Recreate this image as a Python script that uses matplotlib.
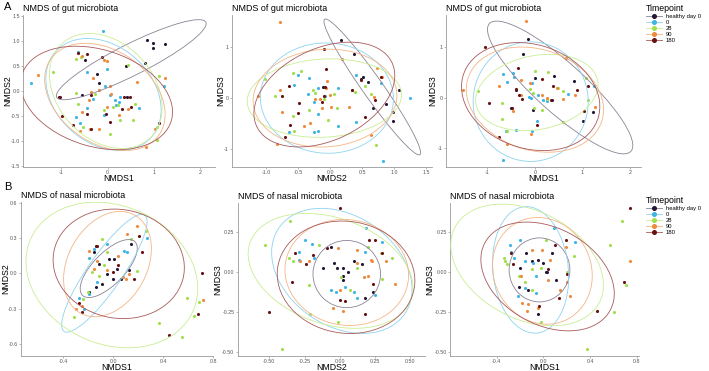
import matplotlib
matplotlib.use("Agg")
import matplotlib.pyplot as plt
from matplotlib.patches import Ellipse
from matplotlib.lines import Line2D

plt.rcParams['font.family'] = ['Liberation Sans', 'DejaVu Sans']
plt.rcParams['axes.unicode_minus'] = False

groups = ["healthy day 0", "0", "28", "90", "180"]
point_colors = ["#241634", "#3db5e6", "#9fe04a", "#f0893a", "#6a0f12"]
ellipse_colors = ["#8c8294", "#8dd3ef", "#c9ee93", "#f4b585", "#a85a5a"]

# ---- gut microbiota, NMDS1 vs NMDS2 ----
gut_12 = {
    "healthy day 0": [(0.86, 1.03), (0.99, 0.97), (1.24, 0.95), (0.98, 0.87), (0.80, 0.56), (-0.18, 0.16),
                      (-0.50, 0.63), (-0.24, 0.35), (0.40, 0.50), (-1.05, -0.12), (-0.56, -0.09), (0.41, -0.12)],
    "0": [(-0.11, 1.20), (-0.65, 0.79), (-0.44, 0.38), (-0.02, 0.45), (-0.05, 0.11), (-1.66, 0.17), (-0.45, -0.34),
          (0.05, -0.09), (0.16, -0.19), (0.24, -0.22), (0.17, -0.28), (0.68, -0.34), (-0.68, -0.52), (-0.60, -0.64),
          (-0.07, -0.49), (1.22, 0.11), (-0.31, -0.17), (0.27, -0.12)],
    "28": [(-0.68, 0.64), (-0.58, 0.68), (-1.19, 0.38), (-0.68, -0.04), (-0.65, -0.26), (-0.27, -0.07), (0.45, 0.53),
           (1.11, 0.30), (0.12, -0.32), (0.27, -0.58), (-0.07, -0.39), (0.04, -0.86), (0.54, -0.58), (0.59, -0.26),
           (0.23, -0.29), (1.06, -0.99), (-0.53, -0.72), (1.06, -0.72)],
    "90": [(-1.51, 0.32), (-0.07, 0.62), (-0.02, 0.60), (-0.56, 0.70), (-0.31, 0.26), (-0.19, 0.03), (-0.37, -0.02),
           (-0.40, -0.19), (0.05, 0.11), (0.63, 0.18), (1.24, 0.26), (0.07, -0.07), (0.25, -0.49), (0.43, -0.36),
           (-0.19, -0.76), (-0.38, -0.76), (-0.60, -0.81), (1.03, -0.76), (0.82, -1.13), (-0.02, -0.32), (-0.56, -0.42)],
    "180": [(-0.65, 0.77), (-0.45, 0.75), (-0.13, 0.68), (-1.04, -0.12), (-0.99, -0.51), (-0.74, -0.69), (-0.37, -0.09),
            (0.48, -0.12), (0.36, -0.12), (0.50, -0.32), (1.11, -0.64), (-0.04, -0.47), (0.04, -0.62), (-0.35, -0.76),
            (-0.44, -0.46), (0.30, -0.36)],
}
# ellipse: centre x, centre y, width, height, angle
gut_12_ell = [(0.51, 0.63, 3.56, 0.64, 25), (-0.09, -0.07, 2.7, 2.0, -35), (-0.04, 0.0, 2.7, 2.0, -40),
              (-0.06, -0.12, 2.8, 1.9, -30), (-0.24, -0.14, 3.36, 1.96, -15)]

# ---- gut microbiota, NMDS2 vs NMDS3 ----
gut_23 = {
    "healthy day 0": [(0.17, 1.15), (0.38, 0.87), (0.51, 0.41), (0.48, 0.38), (0.59, 0.31), (1.08, 0.15),
                      (0.67, -0.20), (0.88, -0.12), (0.98, -0.27), (0.99, -0.46), (-0.11, 0.22)],
    "0": [(-0.33, 0.39), (-0.57, 0.26), (-0.51, 0.45), (-0.19, 0.20), (-0.08, 0.04), (-0.25, -0.07), (-0.19, -0.32),
          (0.13, 0.20), (0.41, 0.46), (0.80, 0.29), (1.25, 0.0), (0.13, -0.56), (0.40, -0.47), (-0.19, -0.64),
          (-0.25, -0.66), (-0.64, -0.66), (0.83, -1.24), (-0.34, 0.08)],
    "28": [(-0.58, 0.49), (-0.45, 0.54), (-1.02, 0.38), (-0.86, 0.05), (-0.27, 0.16), (-0.24, 0.11), (-0.09, -0.02),
           (-0.33, -0.23), (-0.58, -0.35), (-0.03, -0.43), (0.11, -0.20), (0.55, 0.24), (0.64, 0.08), (0.72, -0.92),
           (0.39, 0.13), (-0.56, -0.65), (0.06, 0.08)],
    "90": [(-0.78, 1.50), (0.19, 0.78), (-0.78, 0.15), (-1.13, 0.05), (-0.76, -0.27), (-0.05, 0.34), (-0.06, 0.20),
           (-0.16, -0.02), (0.0, 0.06), (-0.23, -0.02), (-0.13, -0.19), (0.02, -0.18), (0.29, -0.18), (0.34, 0.15),
           (-0.41, -0.55), (-0.31, -0.50), (-0.83, -0.91), (0.64, -0.72), (0.81, 0.41), (0.69, 0.03), (0.73, 0.59)],
    "180": [(-0.10, 0.97), (-0.07, 0.57), (-0.64, 0.23), (-0.76, 0.05), (-0.49, -0.10), (-0.51, -0.29), (-0.63, -0.53),
            (-0.70, -0.76), (-0.10, 0.05), (-0.08, 0.21), (0.35, 0.15), (0.48, 0.36), (0.80, 0.41), (0.70, -0.04),
            (0.54, -0.38), (-0.12, -0.07)],
}
gut_23_ell = [(0.66, 0.22, 3.06, 0.34, -61), (-0.05, 0.0, 2.08, 2.18, 10), (-0.09, 0.0, 2.42, 1.54, 5),
              (-0.08, 0.0, 2.26, 1.92, 10), (-0.09, 0.07, 2.5, 1.7, 40)]

# ---- gut microbiota, NMDS1 vs NMDS3 ----
gut_13 = {
    "healthy day 0": [(-0.14, 1.16), (-0.25, 0.87), (0.0, 0.38), (0.41, 0.42), (0.82, 0.32), (0.35, -0.05),
                      (1.23, -0.28), (1.02, -0.46), (-0.51, -0.20), (-0.05, -0.25), (-0.40, 0.15)],
    "0": [(-0.68, 0.46), (-0.44, 0.40), (-0.46, 0.49), (-0.07, 0.28), (-0.58, 0.31), (-0.08, 0.0), (0.07, 0.06),
          (0.16, -0.05), (0.25, -0.07), (0.70, 0.08), (1.24, 0.23), (0.04, -0.46), (-0.07, -0.65), (-0.40, -0.63),
          (-0.60, -0.66), (-0.67, -1.24), (-0.12, 0.02)],
    "28": [(-1.19, 0.13), (0.0, 0.53), (0.28, 0.51), (-0.11, 0.16), (-0.05, 0.10), (0.26, -0.03), (0.48, 0.18),
           (0.60, 0.13), (-0.70, -0.10), (-0.70, -0.43), (-0.58, -0.66), (-0.02, -0.21), (0.58, -0.48), (1.07, 0.39),
           (1.12, -0.04), (0.15, -0.25)],
    "90": [(-0.18, 1.51), (0.65, 0.79), (-1.52, 0.15), (-0.75, 0.23), (-0.30, 0.34), (-0.11, 0.28), (-0.30, 0.06),
           (-0.08, -0.72), (-0.58, -0.92), (0.46, 0.18), (0.26, 0.0), (0.84, 0.05), (1.26, -0.19), (0.14, 0.05),
           (0.60, -0.03), (-0.47, -0.27)],
    "180": [(-1.05, 0.99), (-0.35, 0.59), (-0.97, -0.11), (-0.39, 0.16), (-0.34, 0.05), (-0.28, -0.02), (0.37, 0.23),
            (0.33, -0.05), (0.88, 0.15), (1.12, 0.23), (1.04, -0.27), (0.05, -0.54), (-0.75, -0.78), (-0.49, -0.20),
            (0.14, 0.36)],
}
gut_13_ell = [(0.53, 0.20, 3.9, 1.0, 140), (-0.09, -0.08, 2.42, 2.36, 0), (0.04, 0.10, 2.6, 1.46, 10),
              (0.0, -0.04, 2.94, 2.0, -15), (-0.09, 0.02, 2.96, 2.06, -15)]

# ---- nasal microbiota, NMDS1 vs NMDS2 ----
nasal_12 = {
    "healthy day 0": [(-0.14, 0.23), (-0.15, 0.18), (-0.11, 0.08), (-0.03, 0.12), (0.01, 0.12), (0.03, 0.04),
                      (0.0, -0.05), (-0.05, -0.01), (-0.14, -0.12), (-0.19, -0.16), (-0.09, -0.09), (0.13, 0.03),
                      (0.06, -0.05), (0.14, 0.25)],
    "0": [(0.27, 0.30), (-0.05, 0.25), (0.09, 0.19), (0.11, 0.18), (-0.19, 0.13), (-0.13, -0.07), (-0.19, -0.18),
          (-0.27, -0.21), (-0.23, -0.30), (-0.15, 0.21)],
    "28": [(0.26, 0.36), (-0.09, 0.29), (0.14, 0.29), (-0.05, 0.18), (-0.07, 0.07), (-0.17, 0.01), (-0.11, -0.02),
           (0.19, 0.02), (-0.20, -0.16), (-0.24, -0.22), (-0.31, -0.37), (0.59, -0.21), (0.69, -0.24), (0.65, -0.36),
           (0.37, -0.42), (0.55, -0.54)],
    "90": [(0.19, 0.40), (0.11, 0.33), (-0.19, 0.19), (-0.13, 0.10), (-0.15, 0.04), (0.08, -0.03), (0.10, -0.05),
           (0.13, -0.01), (-0.05, 0.03), (-0.25, -0.28), (-0.30, -0.30), (0.72, -0.23), (0.04, 0.15)],
    "180": [(0.21, 0.32), (0.23, 0.18), (0.71, 0.0), (0.68, -0.35), (0.45, -0.52), (-0.27, -0.25), (-0.25, -0.33),
            (-0.13, 0.23), (0.04, 0.07), (0.17, -0.05), (0.0, 0.01)],
}
nasal_12_ell = [(-0.035, 0.04, 0.62, 0.26, 48), (-0.07, 0.0, 1.18, 0.28, 57), (-0.01, -0.015, 1.44, 1.16, -30),
                (-0.045, 0.078, 0.94, 0.64, 65), (0.045, 0.08, 1.06, 0.92, -15)]

# ---- nasal microbiota, NMDS2 vs NMDS3 ----
nasal_23 = {
    "healthy day 0": [(-0.12, 0.03), (-0.04, 0.06), (0.02, 0.03), (0.06, 0.0), (0.02, -0.02), (0.10, 0.07),
                      (0.16, 0.05), (-0.06, 0.16), (-0.02, 0.03), (0.18, -0.16), (0.24, -0.12), (0.02, -0.05)],
    "0": [(-0.25, 0.20), (-0.20, 0.18), (-0.29, 0.13), (-0.29, 0.08), (-0.18, 0.09), (-0.06, -0.11), (0.04, -0.09),
          (0.10, -0.12), (0.12, -0.16), (0.18, 0.13), (0.30, 0.19), (0.19, 0.28), (0.25, -0.14), (-0.03, -0.12)],
    "28": [(-0.35, 0.32), (-0.53, 0.17), (-0.36, 0.09), (-0.33, 0.07), (-0.15, 0.17), (-0.22, -0.08), (-0.21, -0.26),
           (-0.01, -0.31), (-0.41, -0.48), (0.01, -0.03), (0.07, -0.11), (0.12, 0.03), (0.20, 0.16), (0.29, 0.12),
           (0.37, 0.09), (0.30, -0.04)],
    "90": [(-0.28, 0.07), (-0.22, 0.07), (-0.01, 0.15), (0.12, 0.14), (0.22, 0.08), (0.23, 0.07), (0.17, -0.03),
           (0.20, -0.02), (0.0, -0.11), (-0.05, -0.22), (0.02, -0.24), (0.33, 0.07), (0.39, -0.07), (0.12, 0.06)],
    "180": [(0.0, 0.40), (-0.32, 0.12), (-0.34, -0.06), (-0.50, -0.25), (-0.24, 0.05), (-0.09, 0.15), (0.21, 0.20),
            (0.25, 0.20), (0.30, 0.12), (0.0, -0.17), (0.04, -0.18), (0.24, -0.07), (0.18, -0.26), (-0.19, 0.11)],
}
nasal_23_ell = [(0.05, -0.01, 0.48, 0.42, 0), (0.015, 0.01, 1.05, 0.71, -25), (-0.065, 0.01, 1.2, 0.67, -15),
                (0.05, 0.0, 0.88, 0.66, -5), (0.045, -0.03, 0.98, 0.70, -5)]

# ---- nasal microbiota, NMDS1 vs NMDS3 ----
nasal_13 = {
    "healthy day 0": [(-0.15, 0.12), (-0.10, 0.07), (-0.20, 0.03), (0.0, 0.06), (0.02, 0.0), (-0.05, 0.08),
                      (-0.21, -0.09), (-0.13, -0.11), (0.11, -0.05), (0.07, 0.12), (-0.05, -0.26), (0.03, 0.0)],
    "0": [(-0.29, 0.17), (-0.20, 0.20), (-0.28, 0.13), (-0.25, 0.09), (-0.16, 0.07), (-0.09, 0.06), (0.09, 0.28),
          (0.27, 0.19), (-0.22, -0.15), (-0.06, -0.13), (-0.16, -0.10), (-0.06, -0.02)],
    "28": [(-0.34, 0.09), (-0.33, 0.07), (-0.31, 0.05), (0.02, 0.20), (-0.10, 0.02), (-0.02, 0.03), (-0.21, -0.02),
           (-0.16, -0.06), (-0.10, -0.11), (0.20, 0.0), (0.26, 0.10), (0.67, 0.32), (0.57, 0.17), (0.71, -0.08),
           (0.60, -0.25), (-0.02, -0.31), (0.37, -0.48)],
    "90": [(-0.10, 0.14), (-0.01, 0.14), (0.06, 0.08), (-0.19, -0.02), (0.04, -0.05), (0.14, -0.11), (-0.18, -0.19),
           (-0.13, -0.20), (-0.05, -0.22), (0.19, 0.16), (0.20, -0.06), (0.23, -0.15), (0.74, 0.07), (-0.14, -0.24)],
    "180": [(0.74, 0.40), (-0.28, 0.12), (0.10, 0.17), (0.19, 0.20), (0.04, 0.02), (-0.04, -0.21), (0.13, -0.16),
            (0.46, -0.24), (0.69, -0.06), (0.20, -0.01), (-0.26, 0.05)],
}
nasal_13_ell = [(-0.034, 0.016, 0.52, 0.40, 0), (-0.11, 0.016, 0.80, 0.64, 105), (-0.14, 0.047, 1.34, 0.70, -15),
                (-0.01, 0.01, 0.86, 0.66, -10), (0.035, -0.025, 1.17, 0.63, -15)]

W, H = 709, 371
fig = plt.figure(figsize=(W / 100, H / 100), dpi=100)


def px_axes(l, t, r, b):
    return fig.add_axes([l / W, 1 - b / H, (r - l) / W, (b - t) / H])


def draw_panel(ax, pts, ells, xlim, ylim, xt, xtl, yt, ytl, xlab, ylab, title, ylab_px, xlab_px):
    for g, pc, ec, e in zip(groups, point_colors, ellipse_colors, ells):
        xs = [p[0] for p in pts[g]]
        ys = [p[1] for p in pts[g]]
        ax.scatter(xs, ys, s=5, color=pc, linewidths=0, zorder=2)
        ax.add_patch(Ellipse((e[0], e[1]), e[2], e[3], angle=e[4], fill=False,
                             edgecolor=ec, lw=0.6, zorder=3))
    ax.set_xlim(*xlim)
    ax.set_ylim(*ylim)
    ax.set_xticks(xt, xtl)
    ax.set_yticks(yt, ytl)
    for s in ["top", "right"]:
        ax.spines[s].set_visible(False)
    for s in ["left", "bottom"]:
        ax.spines[s].set_color("#9a9a9a")
        ax.spines[s].set_linewidth(0.6)
    ax.tick_params(length=1.5, width=0.5, color="#9a9a9a", labelsize=3.8,
                   labelcolor="#555555", pad=0.8)
    ax.set_xlabel(xlab, fontsize=6.3)
    ax.set_ylabel(ylab, fontsize=6.3)
    # label anchors in figure pixels: right edge of y label, top of x label
    pos = ax.get_position()
    ax.yaxis.set_label_coords(ylab_px / W, pos.y0 + pos.height / 2, transform=fig.transFigure)
    ax.xaxis.set_label_coords(pos.x0 + pos.width / 2, 1 - xlab_px / H, transform=fig.transFigure)
    ax.set_title(title, fontsize=6.4, loc="left", pad=3)
    ax.patch.set_alpha(0)


ax = px_axes(23, 15, 215, 166.5)
draw_panel(ax, gut_12, gut_12_ell, (-1.83, 2.32), (-1.52, 1.53),
           [-1, 0, 1, 2], ["-1", "0", "1", "2"],
           [-1.5, -1.0, -0.5, 0.0, 0.5, 1.0, 1.5], ["-1.5", "-1.0", "-0.5", "0.0", "0.5", "1.0", "1.5"],
           "NMDS1", "NMDS2", "NMDS of gut microbiota", 12, 174)
ax = px_axes(231.7, 15, 431.7, 166.5)
draw_panel(ax, gut_23, gut_23_ell, (-1.54, 1.59), (-1.35, 1.64),
           [-1.0, -0.5, 0.0, 0.5, 1.0, 1.5], ["-1.0", "-0.5", "0.0", "0.5", "1.0", "1.5"],
           [-1, 0, 1], ["-1", "0", "1"], "NMDS2", "NMDS3", "NMDS of gut microbiota", 225, 174)
ax = px_axes(446, 15, 641, 166.5)
draw_panel(ax, gut_13, gut_13_ell, (-1.87, 2.23), (-1.36, 1.63),
           [-1, 0, 1, 2], ["-1", "0", "1", "2"],
           [-1, 0, 1], ["-1", "0", "1"], "NMDS1", "NMDS3", "NMDS of gut microbiota", 437, 174)

ax = px_axes(20.7, 202, 213, 355.7)
draw_panel(ax, nasal_12, nasal_12_ell, (-0.74, 0.80), (-0.70, 0.605),
           [-0.4, 0.0, 0.4, 0.8], ["-0.4", "0.0", "0.4", "0.8"],
           [-0.6, -0.3, 0.0, 0.3, 0.6], ["-0.6", "-0.3", "0.0", "0.3", "0.6"],
           "NMDS1", "NMDS2", "NMDS of nasal microbiota", 10, 362.8)
ax = px_axes(237.7, 203, 425, 355.7)
draw_panel(ax, nasal_23, nasal_23_ell, (-0.725, 0.606), (-0.52, 0.434),
           [-0.5, -0.25, 0.0, 0.25, 0.5], ["-0.50", "-0.25", "0.00", "0.25", "0.50"],
           [-0.5, -0.25, 0.0, 0.25], ["-0.50", "-0.25", "0.00", "0.25"],
           "NMDS2", "NMDS3", "NMDS of nasal microbiota", 222, 362.8)
ax = px_axes(450, 203, 639.3, 355.7)
draw_panel(ax, nasal_13, nasal_13_ell, (-0.80, 0.82), (-0.52, 0.434),
           [-0.4, 0.0, 0.4, 0.8], ["-0.4", "0.0", "0.4", "0.8"],
           [-0.5, -0.25, 0.0, 0.25], ["-0.50", "-0.25", "0.00", "0.25"],
           "NMDS1", "NMDS3", "NMDS of nasal microbiota", 434, 362.8)

fig.text(4 / W, 1 - 7 / H, "A", fontsize=8, va="center", ha="left")
fig.text(4 / W, 1 - 187 / H, "B", fontsize=8, va="center", ha="left")

handles = [Line2D([], [], color=ec, lw=0.6, marker="o", markersize=2.6,
                  markerfacecolor=pc, markeredgecolor=pc) for pc, ec in zip(point_colors, ellipse_colors)]
for top in [4, 196]:
    fig.legend(handles, groups, title="Timepoint", loc="upper left",
               bbox_to_anchor=(646 / W, 1 - top / H), frameon=False, fontsize=4.2,
               title_fontsize=6.3, handlelength=2.8, handletextpad=0.6, labelspacing=0.15,
               borderaxespad=0, borderpad=0, alignment="left")

fig.savefig("out.png", dpi=100)
